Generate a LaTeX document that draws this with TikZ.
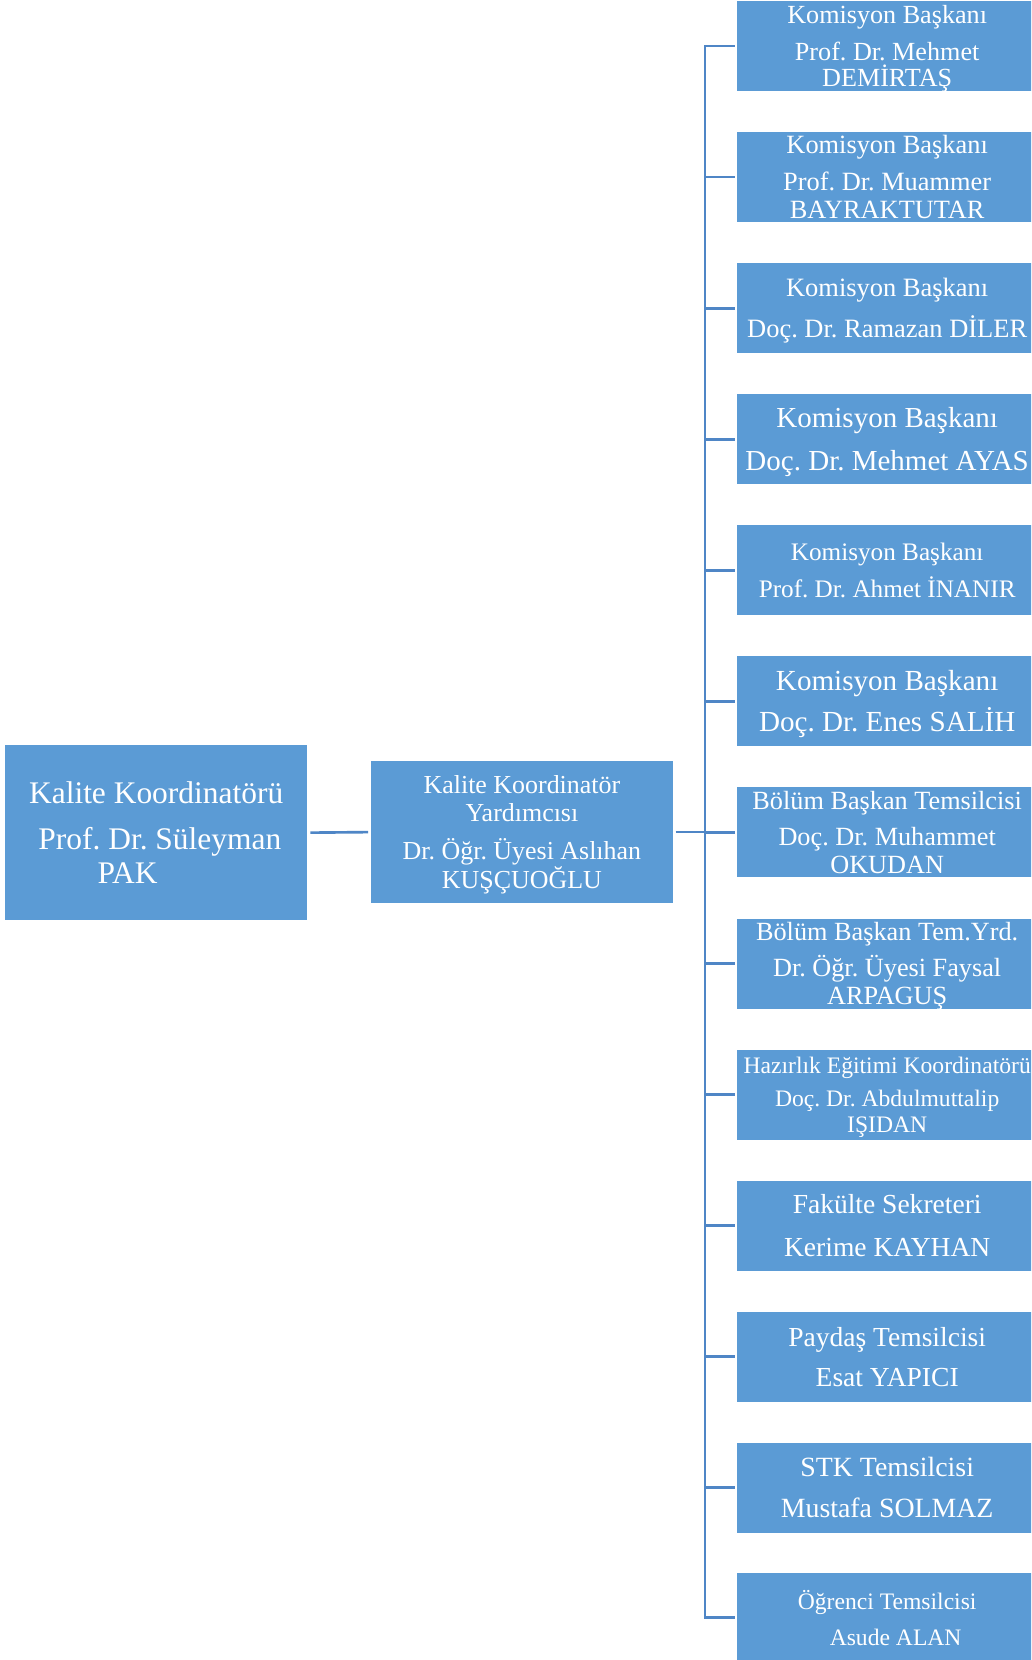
\documentclass[tikz,border=0pt]{standalone}
\usepackage{fontspec}
\setmainfont{Liberation Serif}
\definecolor{boxblue}{HTML}{5B9BD5}
\definecolor{lineblue}{HTML}{4F86C6}
\tikzset{
  box/.style={fill=boxblue, text=white, align=center, inner sep=0pt, anchor=center},
  rbox/.style={box, minimum width=284pt, minimum height=85pt},
  link/.style={draw=lineblue, line width=2.5pt},
}
\newcommand\fsz[2]{\fontsize{#1}{#2}\selectfont}
\begin{document}
\frenchspacing
\begin{tikzpicture}[x=1pt,y=-1pt]
\clip (0,0) rectangle (974,1568);
\fill[white] (0,0) rectangle (974,1568);
\node[box, minimum width=285pt, minimum height=165pt, font=\fsz{29.7}{32}] (coord) at (147.5,786.5)
  {Kalite Koordinatörü\\[11pt]\rule{7pt}{0pt}Prof. Dr. Süleyman\\PAK\rule{54pt}{0pt}};
\node[box, minimum width=286pt, minimum height=134pt, font=\fsz{24.5}{26}] (vice) at (493,786)
  {Kalite Koordinatör\\Yardımcısı\\[10pt]Dr. Öğr. Üyesi Aslıhan\\KU\smash{ŞÇ}UOĞLU};
\node[rbox, font=\fsz{24.7}{25}] (r0) at (838,43.5) {Komisyon Başkanı\\[10pt]Prof. Dr. Mehmet\\DEMİRTA\smash{Ş}};
\node[rbox, font=\fsz{24.9}{26}] (r1) at (838,167.3) {Komisyon Başkanı\\[9pt]Prof. Dr. Muammer\\BAYRAKTUTAR};
\node[rbox, font=\fsz{25}{39}] (r2) at (838,291.1) {Komisyon Başkanı\\Do\smash{ç}. Dr. Ramazan DİLER};
\node[rbox, font=\fsz{27.4}{41}] (r3) at (838,414.9) {Komisyon Başkanı\\Do\smash{ç}. Dr. Mehmet AYAS};
\node[rbox, font=\fsz{23.8}{35}] (r4) at (838,538.7) {Komisyon Başkanı\\Prof. Dr. Ahmet İNANIR};
\node[rbox, font=\fsz{27.5}{39}] (r5) at (838,662.5) {Komisyon Başkanı\\Do\smash{ç}. Dr. Enes SALİH};
\node[rbox, font=\fsz{24.8}{27}] (r6) at (838,786.3) {Bölüm Başkan Temsilcisi\\[7pt]Doç. Dr. Muhammet\\OKUDAN};
\node[rbox, font=\fsz{24.8}{27}] (r7) at (838,910.1) {Bölüm Başkan Tem.Yrd.\\[7pt]Dr. Öğr. Üyesi Faysal\\ARPAGU\smash{Ş}};
\node[rbox, font=\fsz{22.3}{24}] (r8) at (838,1033.9) {Hazırlık Eğitimi Koordinatörü\\[8pt]Doç. Dr. Abdulmuttalip\\I\smash{Ş}IDAN};
\node[rbox, font=\fsz{26}{40}] (r9) at (838,1157.7) {Fakülte Sekreteri\\Kerime KAYHAN};
\node[rbox, font=\fsz{26}{38}] (r10) at (838,1281.5) {Paydaş Temsilcisi\\Esat YAPICI};
\node[rbox, font=\fsz{26.3}{39}] (r11) at (838,1405.3) {STK Temsilcisi\\Mustafa SOLMAZ};
\node[rbox, font=\fsz{22.3}{34}] (r12) at (838,1528.1) {Öğrenci Temsilcisi\\\rule{16pt}{0pt}Asude ALAN};
\coordinate (bus) at (666,0);
\draw[link] ([xshift=3pt]coord.east) -- ([xshift=-2pt]vice.west);
\draw[link] ([xshift=2pt]vice.east) -- (vice.east -| bus);
\draw[link] ([xshift=-2pt]r0.west) -- (r0.west -| bus) -- (r12.west -| bus) -- ([xshift=-2pt]r12.west);
\foreach \i in {1,...,11} \draw[link] (r\i.west -| bus) -- ([xshift=-2pt]r\i.west);
\end{tikzpicture}
\end{document}
